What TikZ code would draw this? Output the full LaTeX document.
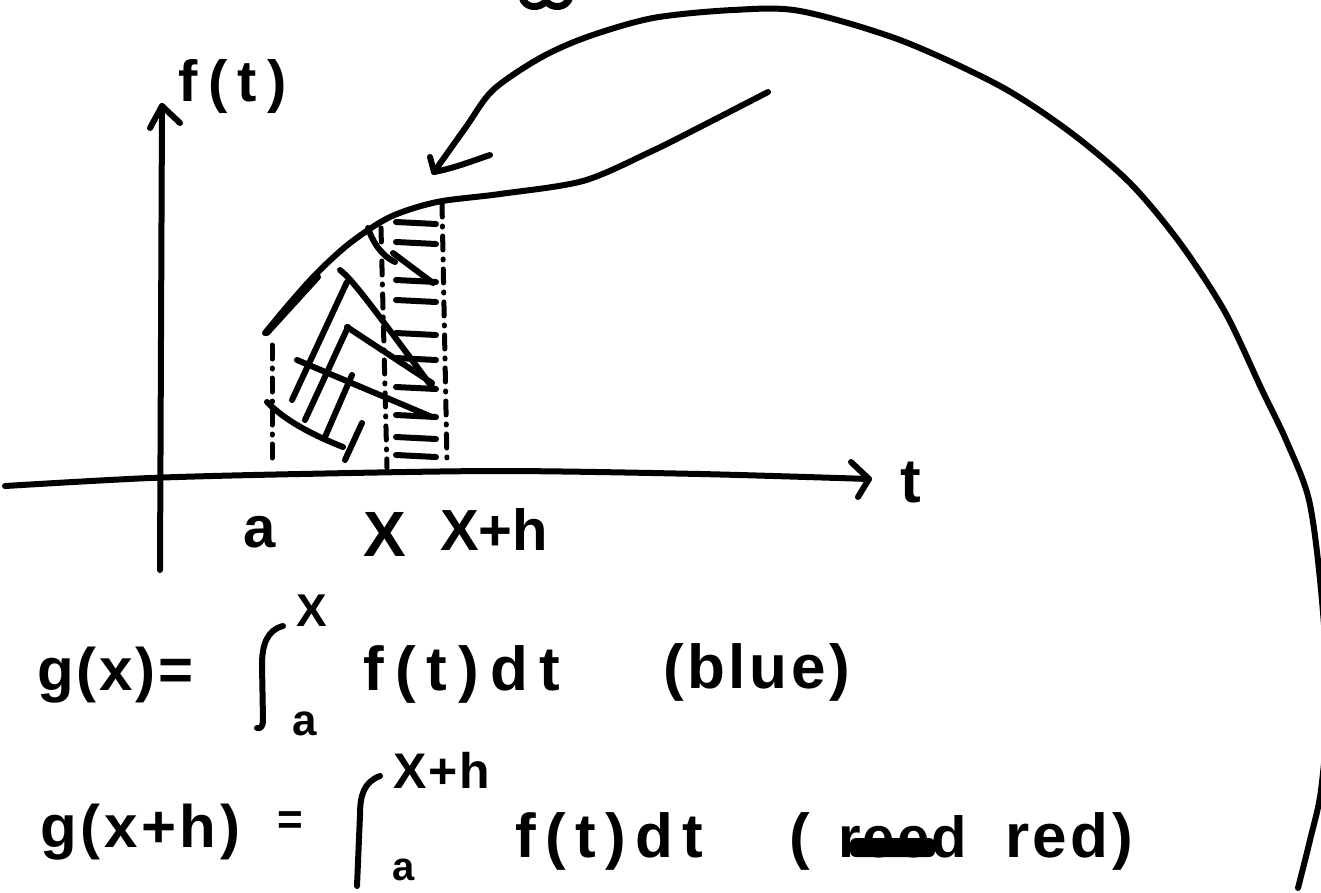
\documentclass[tikz,border=0pt]{standalone}
\usepackage{fontspec}
\setmainfont{Liberation Sans}
\begin{document}
\begin{tikzpicture}[x=1pt,y=-1pt,line cap=round,line join=round,
  ink/.style={line width=6pt},
  hatch/.style={line width=6pt},
  dashdot/.style={line width=5pt,dash pattern=on 14pt off 9pt on 1pt off 9pt},
  txt/.style={inner sep=0pt,anchor=base west,font=\bfseries\fontsize{#1}{#1}\selectfont},
  txt/.default=60,
  ctxt/.style={inner sep=0pt,anchor=center,font=\bfseries\fontsize{#1}{#1}\selectfont}]
\useasboundingbox (0,0) rectangle (1321,892);

% cut-off mark at the top edge
\draw[line width=7pt] (522,-3) .. controls (525,9) and (540,9) .. (546,1) .. controls (552,9) and (566,9) .. (570,-3);

% axes
\coordinate (yb) at (160,570);
\coordinate (yt) at (162,106);
\draw[ink] (yb) -- (yt);
\draw[ink] (150,128) -- (yt) -- (180,123);
\coordinate (xl) at (5,486);
\coordinate (xr) at (869,479);
\draw[ink] plot[smooth] coordinates {(xl) (150,478) (300,474) (500,471) (700,474) (xr)};
\draw[ink] (851,462) -- (xr) -- (858,497);

\node[txt=58] (ft) at (178,101) {\makebox[109pt][s]{f\hfill(\hfill t\hfill)}};
\node[txt=62] (tl) at (900,502) {t};
\node[txt=58] (al) at (243,547) {a};
\node[txt=64] (Xl) at (363,556) {X};
\node[txt=58] (Xhl) at (440,550) {\makebox[95pt][s]{X\hfill+\hfill h}};

% function curve
\coordinate (f0) at (265,333);
\coordinate (f1) at (768,92);
\draw[ink] plot[smooth] coordinates {(f0) (290,303) (317,273) (350,243) (390,217) (437,202) (500,194) (583,181) (650,152) (700,127) (f1)};

% big arrow
\coordinate (b0) at (1298,888);
\coordinate (btip) at (434,172);
\draw[ink] plot[smooth] coordinates {(b0) (1310,840) (1321,790) (1328,700) (1321,590) (1309,500) (1286,440) (1262,390) (1225,312) (1180,243) (1130,183) (1070,132) (1000,86) (900,40) (800,11) (733,10) (653,18) (587,37) (540,58) (493,90) (466,127) (btip)};
\draw[ink] (430,157) -- (btip) .. controls (455,168) and (475,160) .. (490,155);

% dash-dot verticals
\draw[dashdot] (272,345) -- (272,458);
\draw[dashdot] (381,228) -- (387,468);
\draw[dashdot] (442,203) -- (447,462);

% blue hatch
\draw[hatch] (267,333) -- (318,277);
\draw[hatch] (292,400) -- (347,282);
\draw[hatch] (305,420) -- (348,327);
\draw[hatch] (325,437) -- (352,375);
\draw[hatch] (345,460) -- (362,423);
% red hatch (other direction)
\draw[hatch] (340,270) .. controls (352,280) and (360,290) .. (432,387);
\draw[hatch] (347,327) -- (432,383);
\draw[hatch] (297,360) -- (432,417);
\draw[hatch] (267,402) .. controls (280,415) and (300,430) .. (343,447);
\draw[hatch] (368,228) .. controls (372,240) and (380,255) .. (395,262);
\draw[hatch] (393,253) -- (433,283);
% short horizontal strokes between X and X+h
\foreach \yy in {222,242,280,300,333,358,387,415,437,455}
  \draw[hatch] (396,\yy) -- (436,\yy+2);

% formula 1
\node[txt=60] (g1) at (37,690) {\makebox[156pt][s]{g\hfill(\hfill x\hfill)\hfill=}};
\draw[ink] (283,626) .. controls (267,630) and (262,645) .. (262,665) -- (263,720) .. controls (263,727) and (260,729) .. (257,728);
\node[ctxt=46] (up1) at (312,611) {X};
\node[ctxt=44] (lo1) at (305,724) {a};
\node[txt=62] (f1t) at (363,690) {\makebox[197pt][s]{f\hfill(\hfill t\hfill)\hfill d\hfill t}};
\node[txt=62] (blue) at (663,688) {\makebox[187pt][s]{(\hfill b\hfill l\hfill u\hfill e\hfill)}};

% formula 2
\node[txt=60] (g2) at (40,847) {\makebox[200pt][s]{g\hfill(\hfill x\hfill+\hfill h\hfill)}};
\node[ctxt=44] (eq2) at (290,823) {=};
\draw[ink] (380,776) .. controls (364,782) and (360,795) .. (360,815) -- (357,886);
\node[txt=50] (up2) at (393,788) {\makebox[97pt][s]{X\hfill+\hfill h}};
\node[txt=40] (lo2) at (392,880) {a};
\node[txt=62] (f2t) at (515,857) {\makebox[188pt][s]{f\hfill(\hfill t\hfill)\hfill d\hfill t}};
\node[txt=62] (lp) at (789,857) {(};
\node[txt=58] (reed) at (838,857) {\makebox[129pt][s]{r\hfill e\hfill e\hfill d}};
\fill[rounded corners=6pt] (850,838) rectangle (935,857);
\node[txt=62] (red) at (1005,857) {\makebox[128pt][s]{r\hfill e\hfill d\hfill)}};
\end{tikzpicture}
\end{document}
